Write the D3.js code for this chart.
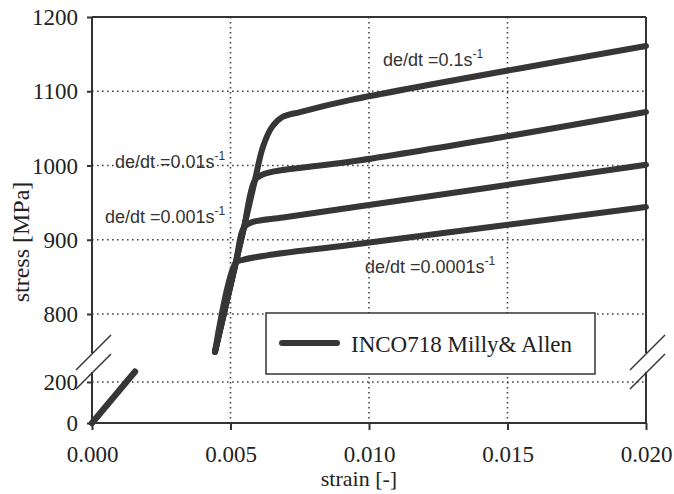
<!DOCTYPE html>
<html>
<head>
<meta charset="utf-8">
<script src="https://cdn.jsdelivr.net/npm/d3@7/dist/d3.min.js"></script>
<style>
  body { margin: 0; background: #fff; }
  svg { display: block; }
</style>
</head>
<body>
<div id="chart"></div>
<script>
// values (strain [-], stress [MPa])
var strainTicks = [0, 0.005, 0.010, 0.015, 0.020];
var stressTicksHigh = [800, 900, 1000, 1100, 1200];
var stressTicksLow = [0, 200];
var gridHigh = [800, 900, 1000, 1100];
var gridLow = [200];
var gridStrain = [0.005, 0.010, 0.015];

// elastic part below the axis break
var elasticLow = [[0, 0], [0.00155, 250]];

// the four strain-rate curves
var rate01 = [[0.00444, 749], [0.00519, 869], [0.00549, 917], [0.00588, 980], [0.00617, 1025], [0.00650, 1052], [0.00686, 1065], [0.00751, 1072], [0.00931, 1088], [0.0200, 1161]];
var rate001 = [[0.00444, 749], [0.00519, 869], [0.00549, 917], [0.00588, 980], [0.00617, 988], [0.00690, 994], [0.00931, 1005], [0.01462, 1037], [0.0200, 1072]];
var rate0001 = [[0.00444, 749], [0.00519, 869], [0.00549, 917], [0.00581, 924], [0.00690, 930], [0.00931, 943], [0.0200, 1001]];
var rate00001 = [[0.00444, 749], [0.00519, 869], [0.00545, 873], [0.00632, 879], [0.00931, 893], [0.0200, 944]];

var rateLabels = ["de/dt =0.1s", "de/dt =0.01s", "de/dt =0.001s", "de/dt =0.0001s"];
var legendLabel = "INCO718 Milly& Allen";

var W = 674, H = 494;
var ink = "#333";
var serif = "'Liberation Serif', 'Times New Roman', serif";
var sans = "'Liberation Sans', Arial, sans-serif";

var x = d3.scaleLinear().domain([0, 0.02]).range([92, 646]);
// broken y axis: two separate scales
var yHigh = d3.scaleLinear().domain([800, 1200]).range([314, 17]);
var yLow = d3.scaleLinear().domain([0, 200]).range([423, 382]);

var svg = d3.select("#chart").append("svg")
  .attr("width", W)
  .attr("height", H);

svg.append("rect").attr("width", W).attr("height", H).attr("fill", "#fff");

// dotted grid
var grid = svg.append("g")
  .attr("stroke", "#444")
  .attr("stroke-width", 1.6)
  .attr("stroke-dasharray", "1.6,3.4");

grid.selectAll(".gh").data(gridHigh).join("line")
  .attr("x1", x(0)).attr("x2", x(0.02))
  .attr("y1", d => yHigh(d)).attr("y2", d => yHigh(d));

grid.selectAll(".gl").data(gridLow).join("line")
  .attr("x1", x(0)).attr("x2", x(0.02))
  .attr("y1", d => yLow(d)).attr("y2", d => yLow(d));

grid.selectAll(".gv").data(gridStrain).join("line")
  .attr("x1", d => x(d)).attr("x2", d => x(d))
  .attr("y1", yHigh(1200)).attr("y2", yLow(0));

// frame with gaps at the break
var breakTop = 353, breakBot = 372;
var frame = svg.append("g").attr("stroke", ink).attr("stroke-width", 2).attr("fill", "none");
frame.append("line").attr("x1", x(0)).attr("x2", x(0.02)).attr("y1", yHigh(1200)).attr("y2", yHigh(1200));
frame.append("line").attr("x1", x(0)).attr("x2", x(0.02)).attr("y1", yLow(0)).attr("y2", yLow(0));
[x(0), x(0.02)].forEach(function (xx) {
  frame.append("line").attr("x1", xx).attr("x2", xx).attr("y1", yHigh(1200)).attr("y2", breakTop);
  frame.append("line").attr("x1", xx).attr("x2", xx).attr("y1", breakBot).attr("y2", yLow(0));
  // double slash break marks
  frame.append("line").attr("x1", xx - 16).attr("y1", breakTop + 17).attr("x2", xx + 19).attr("y2", breakTop - 18).attr("stroke-width", 1.5);
  frame.append("line").attr("x1", xx - 16).attr("y1", breakBot + 17).attr("x2", xx + 19).attr("y2", breakBot - 18).attr("stroke-width", 1.5);
});

// axes
function styleAxis(g) {
  g.select(".domain").remove();
  g.selectAll(".tick line").attr("stroke", ink).attr("stroke-width", 2);
  g.selectAll(".tick text")
    .attr("fill", "#222")
    .style("font-family", serif)
    .style("font-size", "23px");
}

svg.append("g")
  .attr("transform", `translate(${x(0)},0)`)
  .call(d3.axisLeft(yHigh).tickValues(stressTicksHigh).tickSize(5).tickPadding(9).tickFormat(d3.format("d")))
  .call(styleAxis)
  .call(g => g.selectAll(".tick text").attr("dy", "0.33em"));

svg.append("g")
  .attr("transform", `translate(${x(0)},0)`)
  .call(d3.axisLeft(yLow).tickValues(stressTicksLow).tickSize(5).tickPadding(9).tickFormat(d3.format("d")))
  .call(styleAxis)
  .call(g => g.selectAll(".tick text").attr("dy", "0.33em"));

svg.append("g")
  .attr("transform", `translate(0,${yLow(0)})`)
  .call(d3.axisBottom(x).tickValues(strainTicks).tickSize(7).tickFormat(d3.format(".3f")))
  .call(styleAxis)
  .call(g => g.selectAll(".tick text").attr("y", 39).attr("dy", 0));

// axis titles
svg.append("text")
  .attr("x", 359).attr("y", 486)
  .attr("text-anchor", "middle")
  .attr("fill", "#222")
  .style("font-family", serif).style("font-size", "22px")
  .text("strain [-]");

svg.append("text")
  .attr("transform", "translate(29,242) rotate(-90)")
  .attr("text-anchor", "middle")
  .attr("fill", "#222")
  .style("font-family", serif).style("font-size", "24px")
  .text("stress [MPa]");

// curves
var line = d3.line()
  .x(d => x(d[0]))
  .y(d => yHigh(d[1]))
  .curve(d3.curveCatmullRom.alpha(0.5));

var curveColor = "#363636";
[rate01, rate001, rate0001, rate00001].forEach(function (s) {
  svg.append("path")
    .datum(s)
    .attr("d", line)
    .attr("fill", "none")
    .attr("stroke", curveColor)
    .attr("stroke-width", 6)
    .attr("stroke-linecap", "round")
    .attr("stroke-linejoin", "round");
});

var lineLow = d3.line().x(d => x(d[0])).y(d => yLow(d[1]));
svg.append("path")
  .datum(elasticLow)
  .attr("d", lineLow)
  .attr("fill", "none")
  .attr("stroke", curveColor)
  .attr("stroke-width", 6.5)
  .attr("stroke-linecap", "round");

// rate labels
var labelPos = [[383, 66], [115, 168], [105, 223], [365, 273]];
rateLabels.forEach(function (t, i) {
  var txt = svg.append("text")
    .attr("x", labelPos[i][0]).attr("y", labelPos[i][1])
    .attr("fill", "#333")
    .style("font-family", sans).style("font-size", "18px");
  txt.append("tspan").text(t);
  txt.append("tspan").attr("dy", -8).style("font-size", "12px").text("-1");
});

// legend
var lg = svg.append("g");
lg.append("rect")
  .attr("x", 266).attr("y", 313)
  .attr("width", 329).attr("height", 61)
  .attr("fill", "#fff")
  .attr("stroke", ink)
  .attr("stroke-width", 1.5);
lg.append("line")
  .attr("x1", 282).attr("x2", 337)
  .attr("y1", 343).attr("y2", 343)
  .attr("stroke", curveColor)
  .attr("stroke-width", 6)
  .attr("stroke-linecap", "round");
lg.append("text")
  .attr("x", 351).attr("y", 352)
  .attr("fill", "#222")
  .style("font-family", serif).style("font-size", "23px")
  .text(legendLabel);
</script>
</body>
</html>
